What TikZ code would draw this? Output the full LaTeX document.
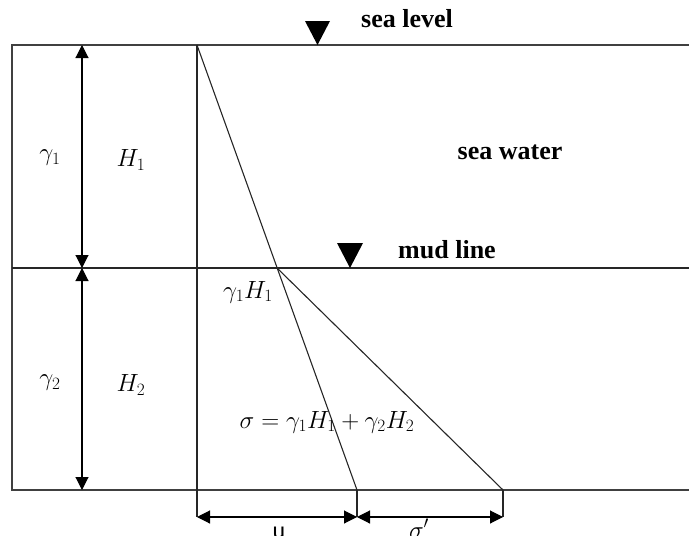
\documentclass[tikz,border=0pt]{standalone}
\usepackage{fontspec}
\setmainfont{Liberation Serif}
\setsansfont{Carlito}
\usetikzlibrary{arrows.meta}
\begin{document}
\begin{tikzpicture}[x=1pt,y=-1pt,
  boxline/.style={draw=black!75, line width=1.8pt},
  thinline/.style={draw=black!85, line width=1.1pt},
  dim/.style={draw=black, line width=1.1pt, {Triangle[length=13pt,width=13pt]}-{Triangle[length=13pt,width=13pt]}},
  marker/.style={fill=black, draw=none},
  lbl/.style={font=\bfseries\fontsize{26}{30}\selectfont, inner sep=0pt},
  mth/.style={font=\fontsize{25}{29}\selectfont, inner sep=0pt},
  sub/.style={font=\fontsize{24}{28}\selectfont, inner sep=0pt, anchor=base}]
\useasboundingbox (0,0) rectangle (689,536);
% frame
\coordinate (TL) at (12,45);
\coordinate (TR) at (689,45);
\coordinate (ML) at (12,268);
\coordinate (MR) at (689,268);
\coordinate (BL) at (12,490);
\coordinate (BR) at (689,490);
\draw[boxline] (TR) -- (TL) -- (BL) -- (BR);
\draw[thinline] (ML) -- (MR);
% depth dimensions
\coordinate (d0) at (82,45);
\coordinate (d1) at (82,268);
\coordinate (d2) at (82,490);
\draw[dim] (d0) -- (d1);
\draw[dim] (d1) -- (d2);
% stress profile
\coordinate (A) at (197,45);
\coordinate (B) at (277,268);
\coordinate (C) at (357,490);
\coordinate (D) at (503,490);
\coordinate (A2) at (197,517);
\coordinate (C2) at (357,517);
\coordinate (D2) at (503,517);
\draw[thinline] (A) -- (A2);
\draw[thinline] (A) -- (C);
\draw[thinline] (B) -- (D);
\draw[thinline] (C) -- (C2);
\draw[thinline] (D) -- (D2);
\draw[dim] (A2) -- (C2);
\draw[dim] (C2) -- (D2);
% water level markers
\path[marker] (305,21) -- (330,21) -- (317.5,45) -- cycle;
\path[marker] (337,243) -- (363,243) -- (350,268) -- cycle;
% labels
\node[lbl] (sealevel) at (407,19) {sea level};
\node[lbl] (mudline) at (447,250) {mud line};
\node[lbl] (seawater) at (510,152) {sea water};
\node[mth] (g1) at (50,158) {$\gamma_1$};
\node[mth] (h1) at (131,160) {$H_1$};
\node[mth] (g2) at (50,383) {$\gamma_2$};
\node[mth] (h2) at (131,385) {$H_2$};
\node[mth] (g1h1) at (248,292) {$\gamma_1 H_1$};
\node[mth, font=\fontsize{24}{28}\selectfont] (sig) at (327,422) {$\sigma = \gamma_1 H_1 + \gamma_2 H_2$};
\node[sub] (u) at (279,538) {\sffamily u};
\node[sub] (sp) at (419,538) {$\sigma'$};
\end{tikzpicture}
\end{document}
